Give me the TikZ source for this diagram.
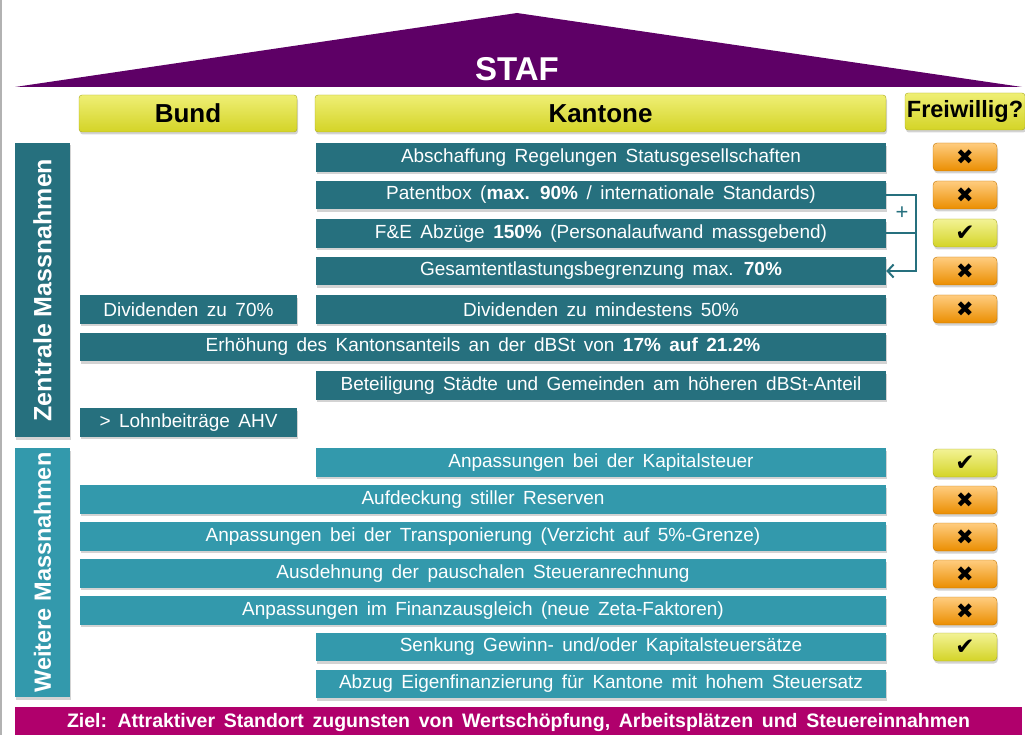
\documentclass[tikz,border=0pt]{standalone}
\usepackage{fontspec}
\setmainfont{Liberation Sans}
\newfontfamily\rowfont[WordSpace=1.6]{Liberation Sans}
\newfontfamily\symfont{DejaVu Sans}
\usepackage{xcolor}
\usetikzlibrary{arrows.meta,shadows}
\definecolor{roof}{HTML}{5E0066}
\definecolor{ziel}{HTML}{B0006C}
\definecolor{zteal}{HTML}{26707E}
\definecolor{wteal}{HTML}{3399AC}
\definecolor{gelb}{HTML}{E6E62A}
\definecolor{gelbrand}{HTML}{A8A820}
\definecolor{orng}{HTML}{FF9A00}
\definecolor{orngrand}{HTML}{C07400}

\begin{document}
\begin{tikzpicture}[x=1pt,y=-1pt,
		shd/.style={drop shadow={shadow xshift=1pt,shadow yshift=-2.5pt,opacity=0.35}},
		zbox/.style={shd,fill=zteal,text=white,minimum height=28.5pt,inner sep=0pt,font=\rowfont\fontsize{19}{21}\selectfont},
		wbox/.style={zbox,fill=wteal},
		hdr/.style={shd,draw=gelbrand,rounded corners=3pt,top color=gelb!65!white,middle color=gelb,bottom color=gelb!92!black,minimum height=37pt,inner sep=0pt,font=\fontsize{26}{28}\selectfont\bfseries},
		nein/.style={shd,draw=orngrand,rounded corners=4pt,top color=orng!50!white,middle color=orng,bottom color=orng!92!black,minimum width=64pt,minimum height=28pt,inner sep=0pt,font=\symfont\fontsize{21}{21}\selectfont},
		ja/.style={nein,draw=gelbrand,top color=gelb!50!white,middle color=gelb,bottom color=gelb!92!black,font=\symfont\fontsize{23}{23}\selectfont}
	]
	\useasboundingbox (0,0) rectangle (1025,735);
	\draw[gray!60,line width=1.5pt] (1,0) -- (1,735);
	% Dach
	\fill[roof] (15,87) -- (517,13) -- (1022,87) -- cycle;
	\node[text=white,font=\fontsize{33}{34}\selectfont\bfseries] (staf) at (517,69) {STAF};
	% Kopfzeile
	\node[hdr,minimum width=218pt] (bund) at (188,113.5) {Bund};
	\node[hdr,minimum width=571pt] (kant) at (600.5,113.5) {Kantone};
	\node[hdr,minimum width=120pt,font=\fontsize{23.5}{25}\selectfont\bfseries] (frei) at (965,111.5) {Freiwillig?};
	% Zentrale Massnahmen
	\node[zbox,rotate=90,minimum width=294pt,minimum height=55pt,font=\fontsize{25}{26}\selectfont\bfseries] (zent) at (42.5,290) {Zentrale Massnahmen};
	\node[zbox,minimum width=570pt] (absch) at (601,157.5) {Abschaffung Regelungen Statusgesellschaften};
	\node[zbox,minimum width=570pt] (patent) at (601,195) {Patentbox (\textbf{max. 90\%} / internationale Standards)};
	\node[zbox,minimum width=570pt] (fue) at (601,233.5) {F\&E Abzüge \textbf{150\%} (Personalaufwand massgebend)};
	\node[zbox,minimum width=570pt] (gesamt) at (601,271) {Gesamtentlastungsbegrenzung max. \textbf{70\%}};
	\node[zbox,minimum width=217pt] (divb) at (188.5,309.5) {Dividenden zu 70\%};
	\node[zbox,minimum width=570pt] (divk) at (601,309.5) {Dividenden zu mindestens 50\%};
	\node[zbox,minimum width=806pt] (dbst) at (483,347) {Erhöhung des Kantonsanteils an der dBSt von \textbf{17\% auf 21.2\%}};
	\node[zbox,minimum width=570pt] (staedte) at (601,385.5) {Beteiligung Städte und Gemeinden am höheren dBSt-Anteil};
	\node[zbox,minimum width=217pt] (ahv) at (188.5,422.5) {> Lohnbeiträge AHV};
	% Weitere Massnahmen
	\node[wbox,rotate=90,minimum width=249pt,minimum height=55pt,font=\fontsize{23.5}{25}\selectfont\bfseries] (weit) at (42.5,572.5) {Weitere Massnahmen};
	\node[wbox,minimum width=570pt] (kapst) at (601,462.5) {Anpassungen bei der Kapitalsteuer};
	\node[wbox,minimum width=806pt] (reserv) at (483,499.5) {Aufdeckung stiller Reserven};
	\node[wbox,minimum width=806pt] (transp) at (483,536.5) {Anpassungen bei der Transponierung (Verzicht auf 5\%-Grenze)};
	\node[wbox,minimum width=806pt] (anrech) at (483,573.5) {Ausdehnung der pauschalen Steueranrechnung};
	\node[wbox,minimum width=806pt] (finanz) at (483,610.5) {Anpassungen im Finanzausgleich (neue Zeta-Faktoren)};
	\node[wbox,minimum width=570pt] (senk) at (601,647) {Senkung Gewinn- und/oder Kapitalsteuersätze};
	\node[wbox,minimum width=570pt] (abzug) at (601,684) {Abzug Eigenfinanzierung für Kantone mit hohem Steuersatz};
	% Klammer
	\coordinate (knick) at (916,195);
	\draw[zteal,line width=2pt] (patent.east) -- (knick) |- (gesamt.east) [-{Straight Barb[length=6pt,width=13pt]}];
	\draw[zteal,line width=2pt] (fue.east) -- (knick |- fue.east);
	\node[text=zteal,font=\fontsize{22}{22}\selectfont] (plus) at (902,213) {+};
	% Freiwillig
	\node[nein] (f1) at (965,157) {✖};
	\node[nein] (f2) at (965,195) {✖};
	\node[ja] (f3) at (965,233) {✔};
	\node[nein] (f4) at (965,271) {✖};
	\node[nein] (f5) at (965,309) {✖};
	\node[ja] (f6) at (965,463) {✔};
	\node[nein] (f7) at (965,500) {✖};
	\node[nein] (f8) at (965,537) {✖};
	\node[nein] (f9) at (965,574) {✖};
	\node[nein] (f10) at (965,611) {✖};
	\node[ja] (f11) at (965,647) {✔};
	% Ziel
	\node[fill=ziel,text=white,minimum width=1007pt,minimum height=30pt,inner sep=0pt,font=\rowfont\fontsize{19.5}{21}\selectfont\bfseries] (ziel) at (518.5,722) {Ziel: Attraktiver Standort zugunsten von Wertschöpfung, Arbeitsplätzen und Steuereinnahmen};
\end{tikzpicture}
\end{document}
